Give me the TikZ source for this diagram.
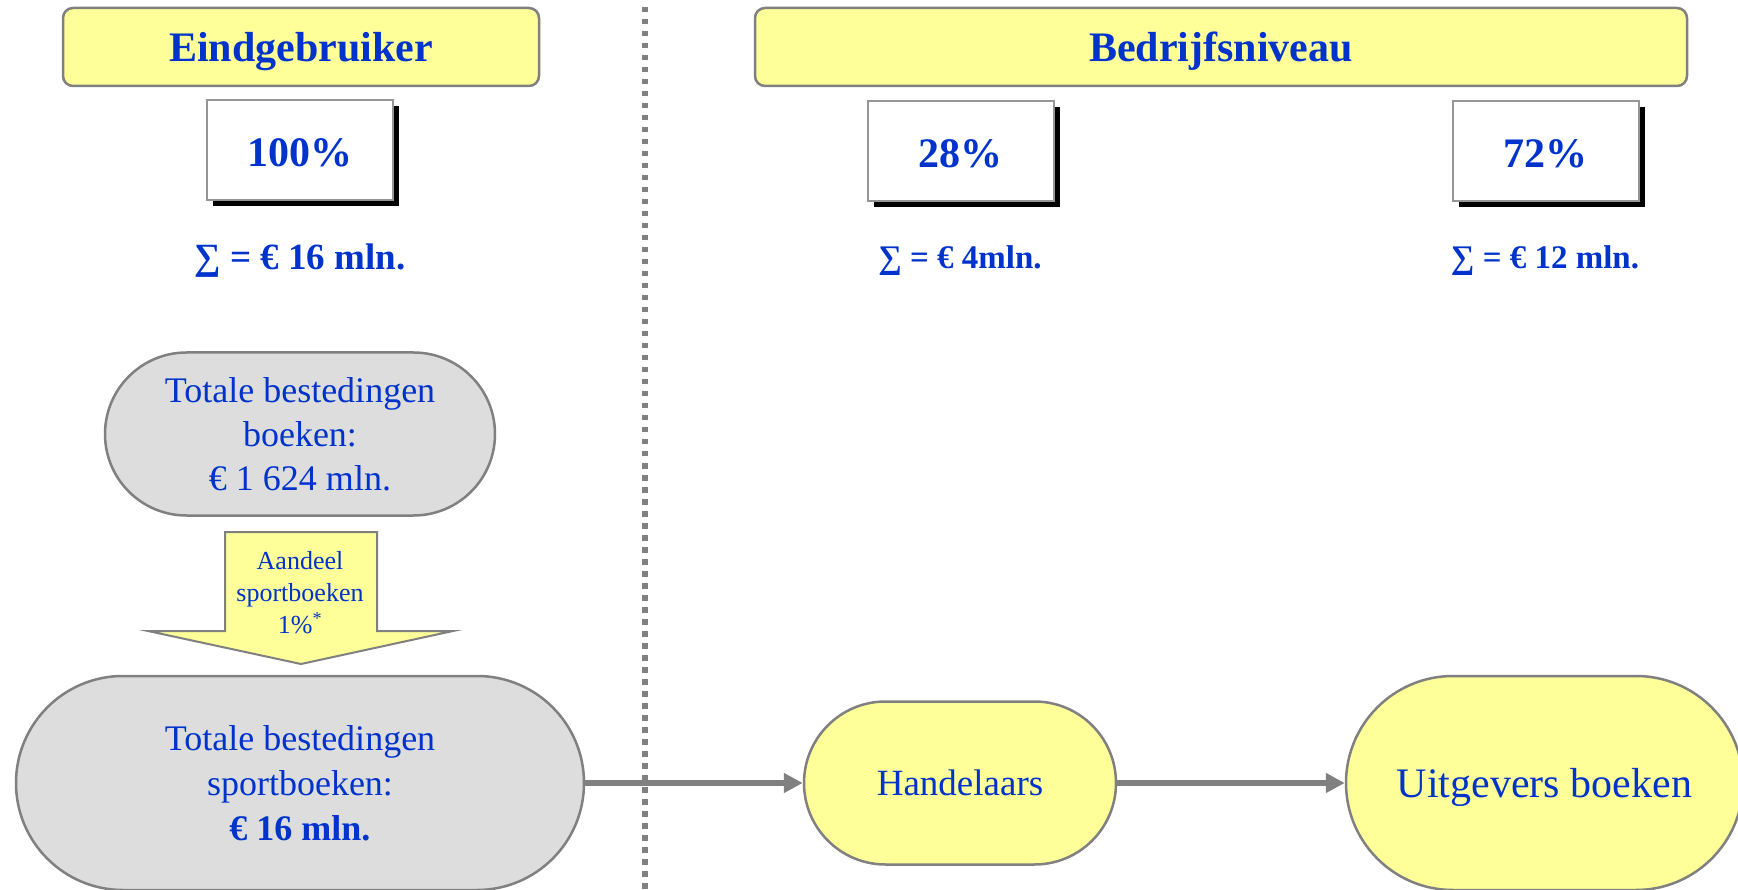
\documentclass[tikz,border=0pt]{standalone}
\usepackage{fontspec}
\setmainfont{Liberation Serif}
\usetikzlibrary{arrows.meta,shadows}
\definecolor{tblue}{RGB}{0,51,204}
\definecolor{lyel}{RGB}{255,255,153}
\definecolor{lgray}{RGB}{221,221,221}
\definecolor{bgray}{RGB}{128,128,128}
\definecolor{boxgray}{RGB}{150,150,150}
\newcommand{\fsz}[2]{\fontsize{#1}{#2}\selectfont}
\begin{document}
\begin{tikzpicture}[x=1pt,y=-1pt,
  header/.style={draw=bgray, line width=2.5pt, fill=lyel, rounded corners=10pt,
    minimum height=78pt, inner sep=0pt, text depth=0pt, text=tblue, font=\fsz{42}{48}\bfseries},
  pctbox/.style={draw=boxgray, line width=2pt, fill=white, minimum width=186pt,
    minimum height=100pt, inner sep=0pt, text height=34pt, text depth=0pt, text=tblue, font=\fsz{42}{48}\bfseries,
    drop shadow={shadow xshift=6pt, shadow yshift=-6pt, fill=black, opacity=1}},
  sumbig/.style={text=tblue, inner sep=0pt, font=\fsz{37}{44}\bfseries},
  sumsmall/.style={text=tblue, inner sep=0pt, font=\fsz{33}{40}\bfseries},
  stad/.style={draw=bgray, line width=2.5pt, rectangle, inner sep=0pt,
    text=tblue, align=center},
  conn/.style={draw=bgray, line width=6pt, -{Triangle[length=19pt,width=19pt]}},
  dotline/.style={draw=bgray, line width=5.5pt, dash pattern=on 5.5pt off 6.5pt}
]
\useasboundingbox (0,0) rectangle (1738,890);

% dotted divider
\coordinate (dtop) at (645,7);
\coordinate (dbot) at (645,890);
\draw[dotline] (dtop) -- (dbot);

% headers
\node[header, minimum width=476pt] (eind) at (301,47) {Eindgebruiker};
\node[header, minimum width=932pt] (bedr) at (1221,47) {Bedrijfsniveau};

% percentage boxes
\node[pctbox] (p100) at (300,150) {100\%};
\node[pctbox] (p28) at (960.5,151) {28\%};
\node[pctbox] (p72) at (1545.5,151) {72\%};

% sums
\node[sumbig] (s16) at (300,261) {∑ = € 16 mln.};
\node[sumsmall] (s4) at (960,261) {∑ = € 4mln.};
\node[sumsmall] (s12) at (1545,261) {∑ = € 12 mln.};

% top grey stadium
\node[stad, fill=lgray, minimum width=390pt, minimum height=163pt,
  rounded corners=81.5pt, font=\fsz{36}{44}] (tot1) at (300,434)
  {Totale bestedingen\\boeken:\\€ 1 624 mln.};

% down arrow
\draw[draw=bgray, line width=2pt, fill=lyel]
  (225,532) -- (377,532) -- (377,631) -- (453,631) -- (301,664)
  -- (148,631) -- (225,631) -- cycle;
\node[text=tblue, align=center, inner sep=0pt, font=\fsz{26}{32}] (aand) at (300,593)
  {Aandeel\\sportboeken\\1\%\textsuperscript{*}};

% bottom grey stadium
\node[stad, fill=lgray, minimum width=568pt, minimum height=214pt,
  rounded corners=107pt, font=\fsz{36}{45}] (tot2) at (300,783)
  {Totale bestedingen\\sportboeken:\\\textbf{€ 16 mln.}};

% yellow stadiums
\node[stad, fill=lyel, minimum width=312pt, minimum height=163pt,
  rounded corners=81.5pt, font=\fsz{37}{44}] (hand) at (960,783)
  {Handelaars};
\node[stad, fill=lyel, minimum width=397pt, minimum height=214pt,
  rounded corners=107pt, font=\fsz{42}{48}, text depth=0pt] (uitg) at (1544.5,783)
  {Uitgevers boeken};

% connectors
\draw[conn] (tot2.east) -- (hand.west);
\draw[conn] (hand.east) -- (uitg.west);
\end{tikzpicture}
\end{document}
